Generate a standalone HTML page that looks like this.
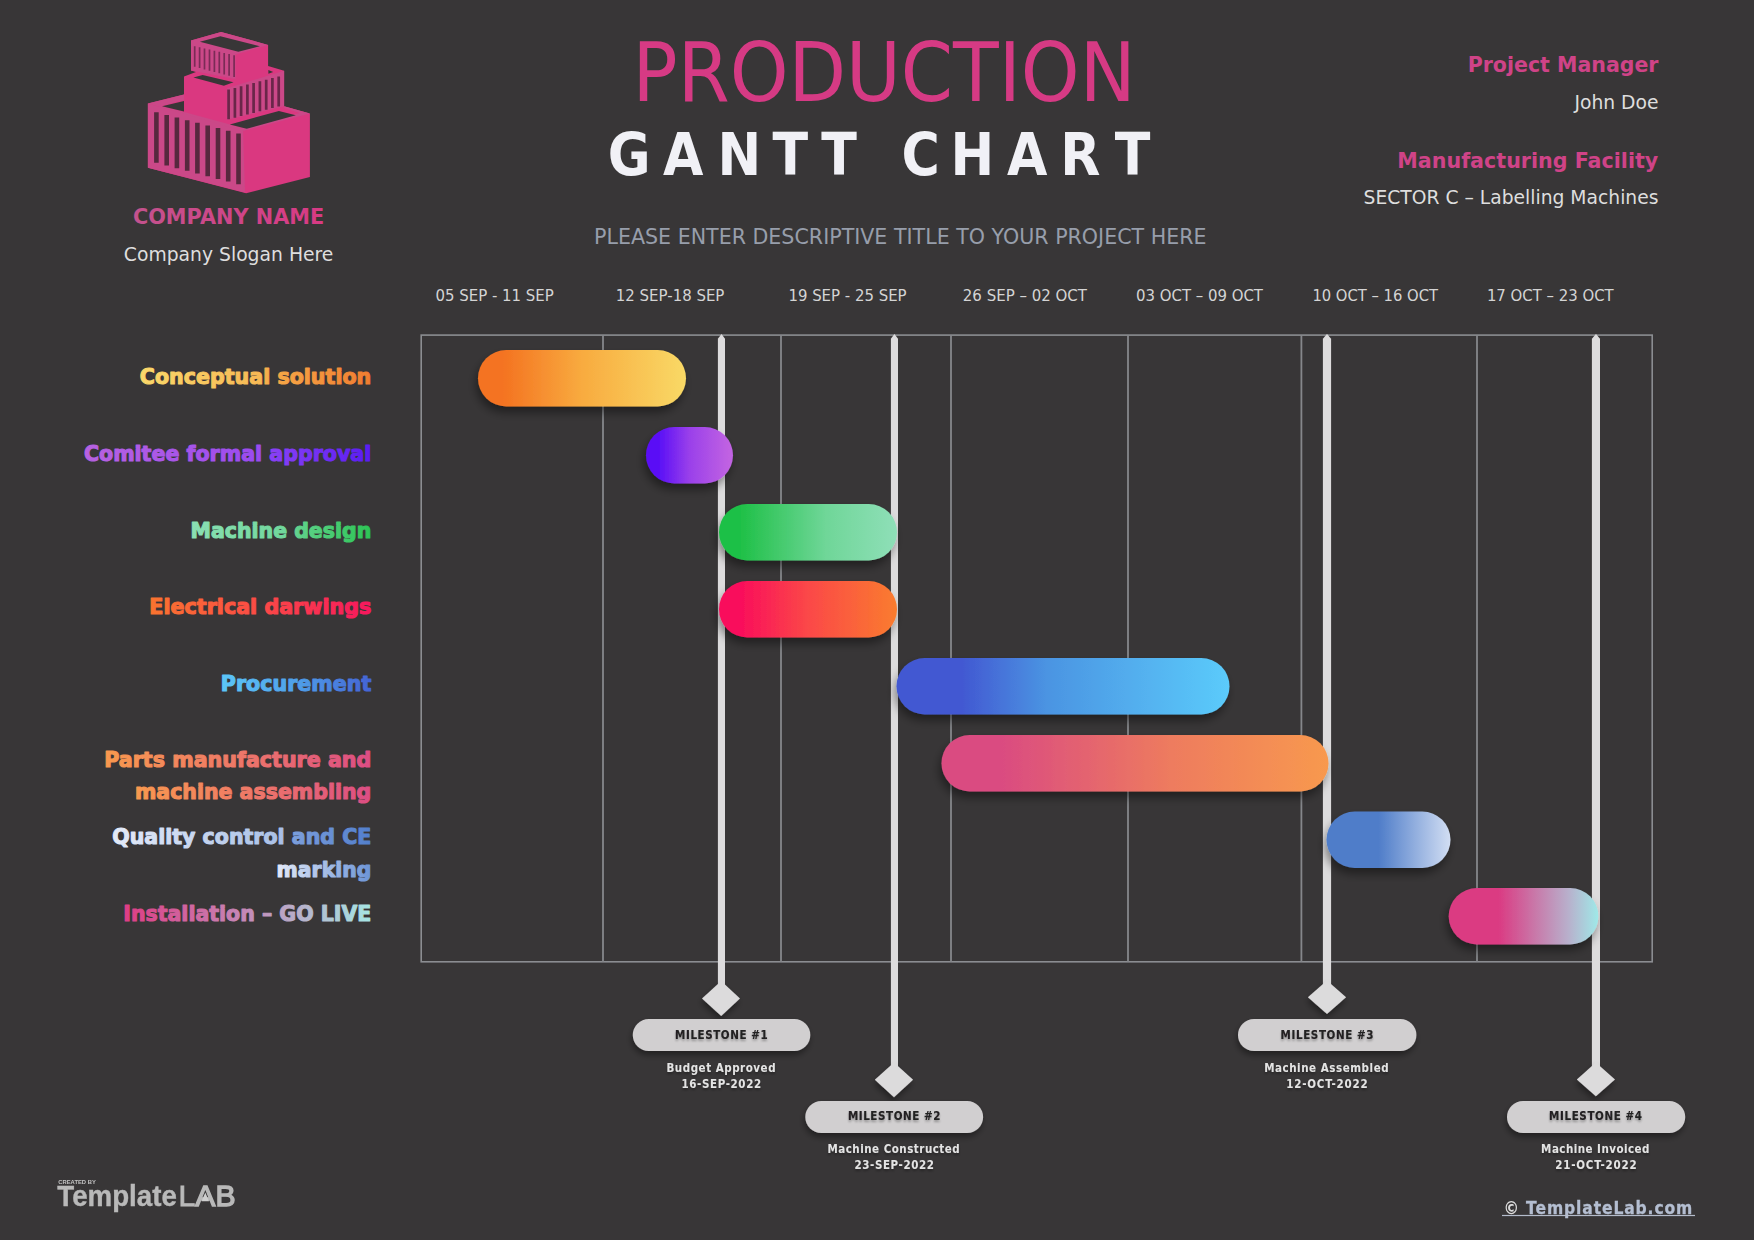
<!DOCTYPE html>
<html lang="en">
<head>
<meta charset="utf-8">
<title>Production Gantt Chart</title>
<style>
html,body{margin:0;padding:0;background:#383637;}
body{width:1754px;height:1240px;overflow:hidden;font-family:"DejaVu Sans","Liberation Sans",sans-serif;}
svg{display:block;position:absolute;left:0;top:0;}
text{font-family:"DejaVu Sans","Liberation Sans",sans-serif;}
.b{font-weight:bold;}
.lbl{font-weight:bold;font-size:21.6px;stroke-width:1.15px;stroke-linejoin:round;}
.hd{font-size:15px;fill:#d4d4d4;}
.ms{font-weight:bold;font-size:11.5px;fill:#222021;stroke:#222021;stroke-width:0.15px;}
.md{font-weight:bold;font-size:11.5px;fill:#e4e4e4;}
</style>
</head>
<body>
<svg width="1754" height="1240" viewBox="0 0 1754 1240">
<defs>
<filter id="sh" x="-20%" y="-30%" width="140%" height="180%">
<feGaussianBlur in="SourceAlpha" stdDeviation="5"/>
<feOffset dx="-2" dy="5.5" result="o"/>
<feComponentTransfer><feFuncA type="linear" slope="0.42"/></feComponentTransfer>
<feMerge><feMergeNode/><feMergeNode in="SourceGraphic"/></feMerge>
</filter>
<linearGradient id="g1"><stop offset="0.12" stop-color="#f47321"/><stop offset="0.5" stop-color="#f8ab3f"/><stop offset="1" stop-color="#f9d966"/></linearGradient>
<linearGradient id="g2"><stop offset="0.15" stop-color="#5a10f6"/><stop offset="0.5" stop-color="#9a40ea"/><stop offset="0.95" stop-color="#c062e2"/></linearGradient>
<linearGradient id="g3"><stop offset="0.12" stop-color="#1fc047"/><stop offset="0.6" stop-color="#6fd698"/><stop offset="1" stop-color="#8fdfb8"/></linearGradient>
<linearGradient id="g4"><stop offset="0.1" stop-color="#f90b5c"/><stop offset="0.5" stop-color="#fb4848"/><stop offset="1" stop-color="#fa7c2e"/></linearGradient>
<linearGradient id="g5"><stop offset="0.2" stop-color="#4259d2"/><stop offset="0.45" stop-color="#4b94e2"/><stop offset="1" stop-color="#5bcbfb"/></linearGradient>
<linearGradient id="g6"><stop offset="0.15" stop-color="#da4b81"/><stop offset="0.6" stop-color="#ee7c5e"/><stop offset="1" stop-color="#f8994e"/></linearGradient>
<linearGradient id="g7"><stop offset="0.42" stop-color="#4f7dc9"/><stop offset="1" stop-color="#d2def3"/></linearGradient>
<linearGradient id="g8"><stop offset="0.33" stop-color="#db3a82"/><stop offset="0.8" stop-color="#b8b0cc"/><stop offset="1" stop-color="#9fe9e8"/></linearGradient>

<filter id="sh2" x="-20%" y="-30%" width="140%" height="180%">
<feGaussianBlur in="SourceAlpha" stdDeviation="3"/>
<feOffset dx="-1.5" dy="4" result="o"/>
<feComponentTransfer><feFuncA type="linear" slope="0.4"/></feComponentTransfer>
<feMerge><feMergeNode/><feMergeNode in="SourceGraphic"/></feMerge>
</filter>
<linearGradient id="t1" gradientUnits="userSpaceOnUse" x1="140" x2="371"><stop offset="0" stop-color="#fad86a"/><stop offset="0.52" stop-color="#f7b955"/><stop offset="0.56" stop-color="#f6aa48"/><stop offset="1" stop-color="#f07c30"/></linearGradient>
<linearGradient id="t2" gradientUnits="userSpaceOnUse" x1="84" x2="371"><stop offset="0" stop-color="#b862e0"/><stop offset="0.62" stop-color="#9a4af0"/><stop offset="0.64" stop-color="#8b42f4"/><stop offset="1" stop-color="#5a1cf2"/></linearGradient>
<linearGradient id="t3" gradientUnits="userSpaceOnUse" x1="190" x2="371"><stop offset="0" stop-color="#8ae0b4"/><stop offset="0.55" stop-color="#6fd79a"/><stop offset="0.6" stop-color="#5fd28a"/><stop offset="1" stop-color="#2dc455"/></linearGradient>
<linearGradient id="t4" gradientUnits="userSpaceOnUse" x1="150" x2="371"><stop offset="0" stop-color="#f9742f"/><stop offset="0.5" stop-color="#fb4a46"/><stop offset="1" stop-color="#f6175e"/></linearGradient>
<linearGradient id="t5" gradientUnits="userSpaceOnUse" x1="221" x2="371"><stop offset="0" stop-color="#5cc6f8"/><stop offset="0.5" stop-color="#4fa0e8"/><stop offset="1" stop-color="#4463d4"/></linearGradient>
<linearGradient id="t6" gradientUnits="userSpaceOnUse" x1="104" x2="371"><stop offset="0" stop-color="#f8994e"/><stop offset="0.5" stop-color="#ee7868"/><stop offset="1" stop-color="#dc4d84"/></linearGradient>
<linearGradient id="t6b" gradientUnits="userSpaceOnUse" x1="134" x2="371"><stop offset="0" stop-color="#f8994e"/><stop offset="0.5" stop-color="#ee7868"/><stop offset="1" stop-color="#dc4d84"/></linearGradient>
<linearGradient id="t7" gradientUnits="userSpaceOnUse" x1="112" x2="371"><stop offset="0" stop-color="#e4ebf8"/><stop offset="0.66" stop-color="#a9c0e6"/><stop offset="0.68" stop-color="#7ea0dc"/><stop offset="1" stop-color="#527fcc"/></linearGradient>
<linearGradient id="t7b" gradientUnits="userSpaceOnUse" x1="276" x2="371"><stop offset="0" stop-color="#e4ebf8"/><stop offset="1" stop-color="#6c94d6"/></linearGradient>
<linearGradient id="t8" gradientUnits="userSpaceOnUse" x1="123" x2="371"><stop offset="0" stop-color="#de3c84"/><stop offset="0.5" stop-color="#c48ab8"/><stop offset="1" stop-color="#a5e6e4"/></linearGradient>
<linearGradient id="cn" gradientUnits="userSpaceOnUse" x1="134" x2="323"><stop offset="0" stop-color="#c3528d"/><stop offset="1" stop-color="#d83a84"/></linearGradient>
<filter id="ts" x="-10%" y="-40%" width="120%" height="200%">
<feGaussianBlur in="SourceAlpha" stdDeviation="1"/>
<feOffset dx="-0.5" dy="1.5"/>
<feComponentTransfer><feFuncA type="linear" slope="0.3"/></feComponentTransfer>
<feMerge><feMergeNode/><feMergeNode in="SourceGraphic"/></feMerge>
</filter>
</defs>
<rect width="1754" height="1240" fill="#383637"/>

<!-- GRID -->
<g id="grid" fill="none" stroke="#8b8d91" stroke-width="1.6">
<rect x="421.2" y="335.1" width="1231" height="626.7"/>
<path stroke="#85878b" stroke-width="1.8" d="M603 335V962M781 335V962M951 335V962M1128 335V962M1301.4 335V962M1477 335V962"/>
</g>

<!-- MILESTONE LINES -->
<g id="mlines" fill="#dddcdd">
<path d="M717.9 338.8L721.5 334L725 338.8V986H717.9Z"/>
<path d="M890.9 338.8L894.4 334L898 338.8V1068H890.9Z"/>
<path d="M1322.9 338.8L1327 334L1331.1 338.8V986H1322.9Z"/>
<path d="M1591.9 338.8L1596 334L1600 338.8V1068H1591.9Z"/>
</g>

<!-- BARS -->
<g id="bars" filter="url(#sh)">
<rect x="478" y="350" width="208" height="56.5" rx="28.25" fill="url(#g1)"/>
<rect x="646" y="427" width="87" height="56.5" rx="28.25" fill="url(#g2)"/>
<rect x="719" y="504" width="178" height="56.5" rx="28.25" fill="url(#g3)"/>
<rect x="719" y="581" width="178" height="56.5" rx="28.25" fill="url(#g4)"/>
<rect x="896.5" y="658" width="333" height="56.5" rx="28.25" fill="url(#g5)"/>
<rect x="941.5" y="735" width="387" height="56.5" rx="28.25" fill="url(#g6)"/>
<rect x="1326.5" y="811.5" width="124" height="56.5" rx="28.25" fill="url(#g7)"/>
<rect x="1448.7" y="888" width="149.7" height="56.5" rx="28.25" fill="url(#g8)"/>
</g>

<!-- MILESTONE MARKERS -->
<g id="mmarks" filter="url(#sh2)">
<path d="M702 998.5L721.2 981.1L740 998.5L721.2 1015.9Z" fill="#dcdbdc"/>
<path d="M874.8 1079.8L894 1062.4L913.1 1079.8L894 1097.3Z" fill="#dcdbdc"/>
<path d="M1307.9 997.3L1327 980.6L1346.1 997.3L1327 1014Z" fill="#dcdbdc"/>
<path d="M1576.8 1079.4L1595.9 1062.6L1615 1079.4L1595.9 1096.2Z" fill="#dcdbdc"/>
<rect x="632.8" y="1019" width="177.5" height="32" rx="16" fill="#d1cfd0"/>
<rect x="805.3" y="1101" width="177.8" height="32" rx="16" fill="#d1cfd0"/>
<rect x="1238" y="1019" width="178.4" height="32" rx="16" fill="#d1cfd0"/>
<rect x="1507" y="1101" width="178.2" height="32" rx="16" fill="#d1cfd0"/>
</g>
<g class="ms" text-anchor="middle" filter="url(#ts)">
<text transform="translate(721.4,0) scale(0.9,1)" x="0" y="1039" textLength="102.9" lengthAdjust="spacing">MILESTONE #1</text>
<text transform="translate(894.2,0) scale(0.9,1)" x="0" y="1120.2" textLength="102.9" lengthAdjust="spacing">MILESTONE #2</text>
<text transform="translate(1327.1,0) scale(0.9,1)" x="0" y="1039.5" textLength="103.3" lengthAdjust="spacing">MILESTONE #3</text>
<text transform="translate(1595.6,0) scale(0.9,1)" x="0" y="1120.4" textLength="103.3" lengthAdjust="spacing">MILESTONE #4</text>
</g>
<g class="md" text-anchor="middle" filter="url(#ts)">
<text transform="translate(721.0,0) scale(0.9,1)" x="0" y="1072.2" textLength="121.3" lengthAdjust="spacing">Budget Approved</text>
<text transform="translate(721.3,0) scale(0.9,1)" x="0" y="1088" textLength="88.7" lengthAdjust="spacing">16-SEP-2022</text>
<text transform="translate(893.6,0) scale(0.9,1)" x="0" y="1152.6" textLength="146.9" lengthAdjust="spacing">Machine Constructed</text>
<text transform="translate(894.2,0) scale(0.9,1)" x="0" y="1168.7" textLength="88.3" lengthAdjust="spacing">23-SEP-2022</text>
<text transform="translate(1326.4,0) scale(0.9,1)" x="0" y="1072.2" textLength="138.3" lengthAdjust="spacing">Machine Assembled</text>
<text transform="translate(1327.0,0) scale(0.9,1)" x="0" y="1088.5" textLength="90.5" lengthAdjust="spacing">12-OCT-2022</text>
<text transform="translate(1595.3,0) scale(0.9,1)" x="0" y="1152.8" textLength="120.4" lengthAdjust="spacing">Machine Invoiced</text>
<text transform="translate(1596.0,0) scale(0.9,1)" x="0" y="1169.2" textLength="90.5" lengthAdjust="spacing">21-OCT-2022</text>
</g>


<!-- LOGO -->
<g id="logo">
<path fill="#da3880" d="M221.1 31.9L268.1 44.9V66.1L284.1 70.8V106.3L309.9 113.6V176.9L246.1 193.2L147.9 167.8V103.5L184 94.4V76.4L196 72L191 70.4V40.4Z"/>
<path fill="#cb4888" d="M191 40.4L221.1 31.9L268.1 44.9L235.5 54.5V79.1L191 70.4Z"/>
<path fill="#cb4888" d="M226.9 88.2L284.1 70.8V106.3L226.9 119.8Z"/>
<path fill="#cb4888" d="M147.9 103.5L243 129.4L245 192.5L147.9 167.8Z"/>
<path fill="#cb4888" d="M147.9 103.5L184 94.4V100L162 106L243 128L300 113L284.1 108V106.3L309.9 113.6L243 131Z"/>
<path d="M194.7 46.2V66.8M199.6 47.3V68.1M204.5 48.5V69.4M209.5 49.6V70.7M214.4 50.7V72.0M219.3 51.8V73.2M224.2 53.0V74.5M229.1 54.1V75.8M234.1 55.2V77.1" stroke="#7a2b56" stroke-width="1.7" fill="none"/>
<path d="M228.6 89.6V119.3M234.9 87.9V117.7M241.1 86.3V116.1M247.4 84.6V114.5M253.6 83.0V112.9M259.9 81.3V111.3M266.2 79.7V109.7M272.4 78.0V108.1M278.7 76.4V106.5" stroke="#6a2649" stroke-width="2.7" fill="none"/>
<path d="M156.4 112.2V162.8M166.7 114.9V165.5M176.9 117.5V168.2M187.2 120.2V170.8M197.4 122.8V173.5M207.7 125.5V176.2M218.0 128.1V178.9M228.2 130.8V181.5M238.5 133.4V184.2" stroke="#57283e" stroke-width="4.6" fill="none"/>
<g fill="#383637">
<path d="M199.9 41.8L220.4 36.3L259.8 46.2L238.3 51.7Z"/>
<path d="M193.4 77.4L202.6 75L233.5 82.2L223.9 85.7Z"/>
<path d="M268.4 69.9L273.2 72L268.4 73.7Z"/>
<path d="M162 106.3L184 100.9V111.4Z"/>
<path d="M229.8 124.4L278.9 111L295.8 115.3L246.7 128.7Z"/>
</g>
</g>

<!-- HEADER TEXT -->
<text x="632.6" y="101.2" font-size="82" fill="#d63a84" textLength="503" lengthAdjust="spacingAndGlyphs">PRODUCTION</text>
<text transform="scale(0.9,1)" x="675.4 736.8 797.2 858.4 912.4 972.2 1001.7 1056.2 1118.9 1178.2 1238.7" y="174.8" font-size="58" class="b" fill="#f1f1f6">GANTT CHART</text>
<text x="594" y="243.9" font-size="21.5" fill="#979eab" textLength="612.5" lengthAdjust="spacingAndGlyphs">PLEASE ENTER DESCRIPTIVE TITLE TO YOUR PROJECT HERE</text>

<text x="132.9" y="223.8" font-size="21" class="b" fill="url(#cn)" textLength="191.4" lengthAdjust="spacingAndGlyphs">COMPANY NAME</text>
<text x="123.8" y="260.9" font-size="19" fill="#dedede" textLength="209.6" lengthAdjust="spacingAndGlyphs">Company Slogan Here</text>

<g text-anchor="end">
<text x="1658.5" y="71.8" font-size="21" class="b" fill="#cf4387" textLength="190.8" lengthAdjust="spacingAndGlyphs">Project Manager</text>
<text x="1658.5" y="109.3" font-size="19" fill="#dedede" textLength="84.1" lengthAdjust="spacingAndGlyphs">John Doe</text>
<text x="1658.3" y="167.5" font-size="21" class="b" fill="#cf4387" textLength="261" lengthAdjust="spacingAndGlyphs">Manufacturing Facility</text>
<text x="1658.5" y="204.3" font-size="19" fill="#dedede" textLength="295" lengthAdjust="spacingAndGlyphs">SECTOR C – Labelling Machines</text>
</g>

<g class="hd">
<text x="435.5" y="301" textLength="118.3" lengthAdjust="spacingAndGlyphs">05 SEP - 11 SEP</text>
<text x="615.8" y="301" textLength="108.6" lengthAdjust="spacingAndGlyphs">12 SEP-18 SEP</text>
<text x="788.4" y="301" textLength="118.2" lengthAdjust="spacingAndGlyphs">19 SEP - 25 SEP</text>
<text x="962.8" y="301" textLength="124.2" lengthAdjust="spacingAndGlyphs">26 SEP – 02 OCT</text>
<text x="1136" y="301" textLength="127" lengthAdjust="spacingAndGlyphs">03 OCT – 09 OCT</text>
<text x="1312.4" y="301" textLength="125.6" lengthAdjust="spacingAndGlyphs">10 OCT – 16 OCT</text>
<text x="1486.9" y="301" textLength="126.8" lengthAdjust="spacingAndGlyphs">17 OCT – 23 OCT</text>
</g>

<!-- TASK LABELS -->
<g class="lbl" text-anchor="end">
<text x="371.3" y="383.9" fill="url(#t1)" stroke="url(#t1)" textLength="231.5" lengthAdjust="spacingAndGlyphs">Conceptual solution</text>
<text x="371.3" y="461.0" fill="url(#t2)" stroke="url(#t2)" textLength="287.4" lengthAdjust="spacingAndGlyphs">Comitee formal approval</text>
<text x="371.3" y="537.6" fill="url(#t3)" stroke="url(#t3)" textLength="180.8" lengthAdjust="spacingAndGlyphs">Machine design</text>
<text x="371.3" y="613.8" fill="url(#t4)" stroke="url(#t4)" textLength="222" lengthAdjust="spacingAndGlyphs">Electrical darwings</text>
<text x="371.3" y="691.2" fill="url(#t5)" stroke="url(#t5)" textLength="150.5" lengthAdjust="spacingAndGlyphs">Procurement</text>
<text x="371.3" y="767.0" fill="url(#t6)" stroke="url(#t6)" textLength="267.1" lengthAdjust="spacingAndGlyphs">Parts manufacture and</text>
<text x="371.3" y="798.9" fill="url(#t6b)" stroke="url(#t6b)" textLength="236.4" lengthAdjust="spacingAndGlyphs">machine assembling</text>
<text x="371.3" y="844.0" fill="url(#t7)" stroke="url(#t7)" textLength="259.1" lengthAdjust="spacingAndGlyphs">Quality control and CE</text>
<text x="371.3" y="876.7" fill="url(#t7b)" stroke="url(#t7b)" textLength="94.7" lengthAdjust="spacingAndGlyphs">marking</text>
<text x="371.3" y="920.6" fill="url(#t8)" stroke="url(#t8)" textLength="248" lengthAdjust="spacingAndGlyphs">Installation – GO LIVE</text>
</g>

<!-- FOOTER -->
<text transform="translate(1503.4,0) scale(0.93,1)" x="0" y="1214" font-size="16.8" class="b" stroke-width="0.3" textLength="203.2" lengthAdjust="spacing"><tspan fill="#dcdcdc">© </tspan><tspan fill="#b4bed1" stroke="#b4bed1">TemplateLab.com</tspan></text>
<rect x="1502" y="1214.9" width="193" height="1.2" fill="#b4bccb"/>
<text x="58.3" y="1184.2" font-size="5.6" class="b" fill="#c4c4c4" style="font-family:'Liberation Sans',sans-serif" textLength="37.5" lengthAdjust="spacingAndGlyphs">CREATED BY</text>
<text x="57.3" y="1206.4" font-size="29" class="b" fill="#b9b9b9" stroke="#b9b9b9" stroke-width="0.4" style="font-family:'Liberation Sans',sans-serif" textLength="119.5" lengthAdjust="spacingAndGlyphs">Template</text>
<text x="178.6" y="1206.4" font-size="29" fill="#b9b9b9" stroke="#b9b9b9" style="font-family:'Liberation Sans',sans-serif" textLength="57" lengthAdjust="spacingAndGlyphs"><tspan stroke-width="0.9">L</tspan><tspan stroke-width="1.4">AB</tspan></text>
<path d="M205.3 1192.5L201.6 1201.2H209Z" fill="#cfcfcf"/>
</svg>
</body>
</html>
